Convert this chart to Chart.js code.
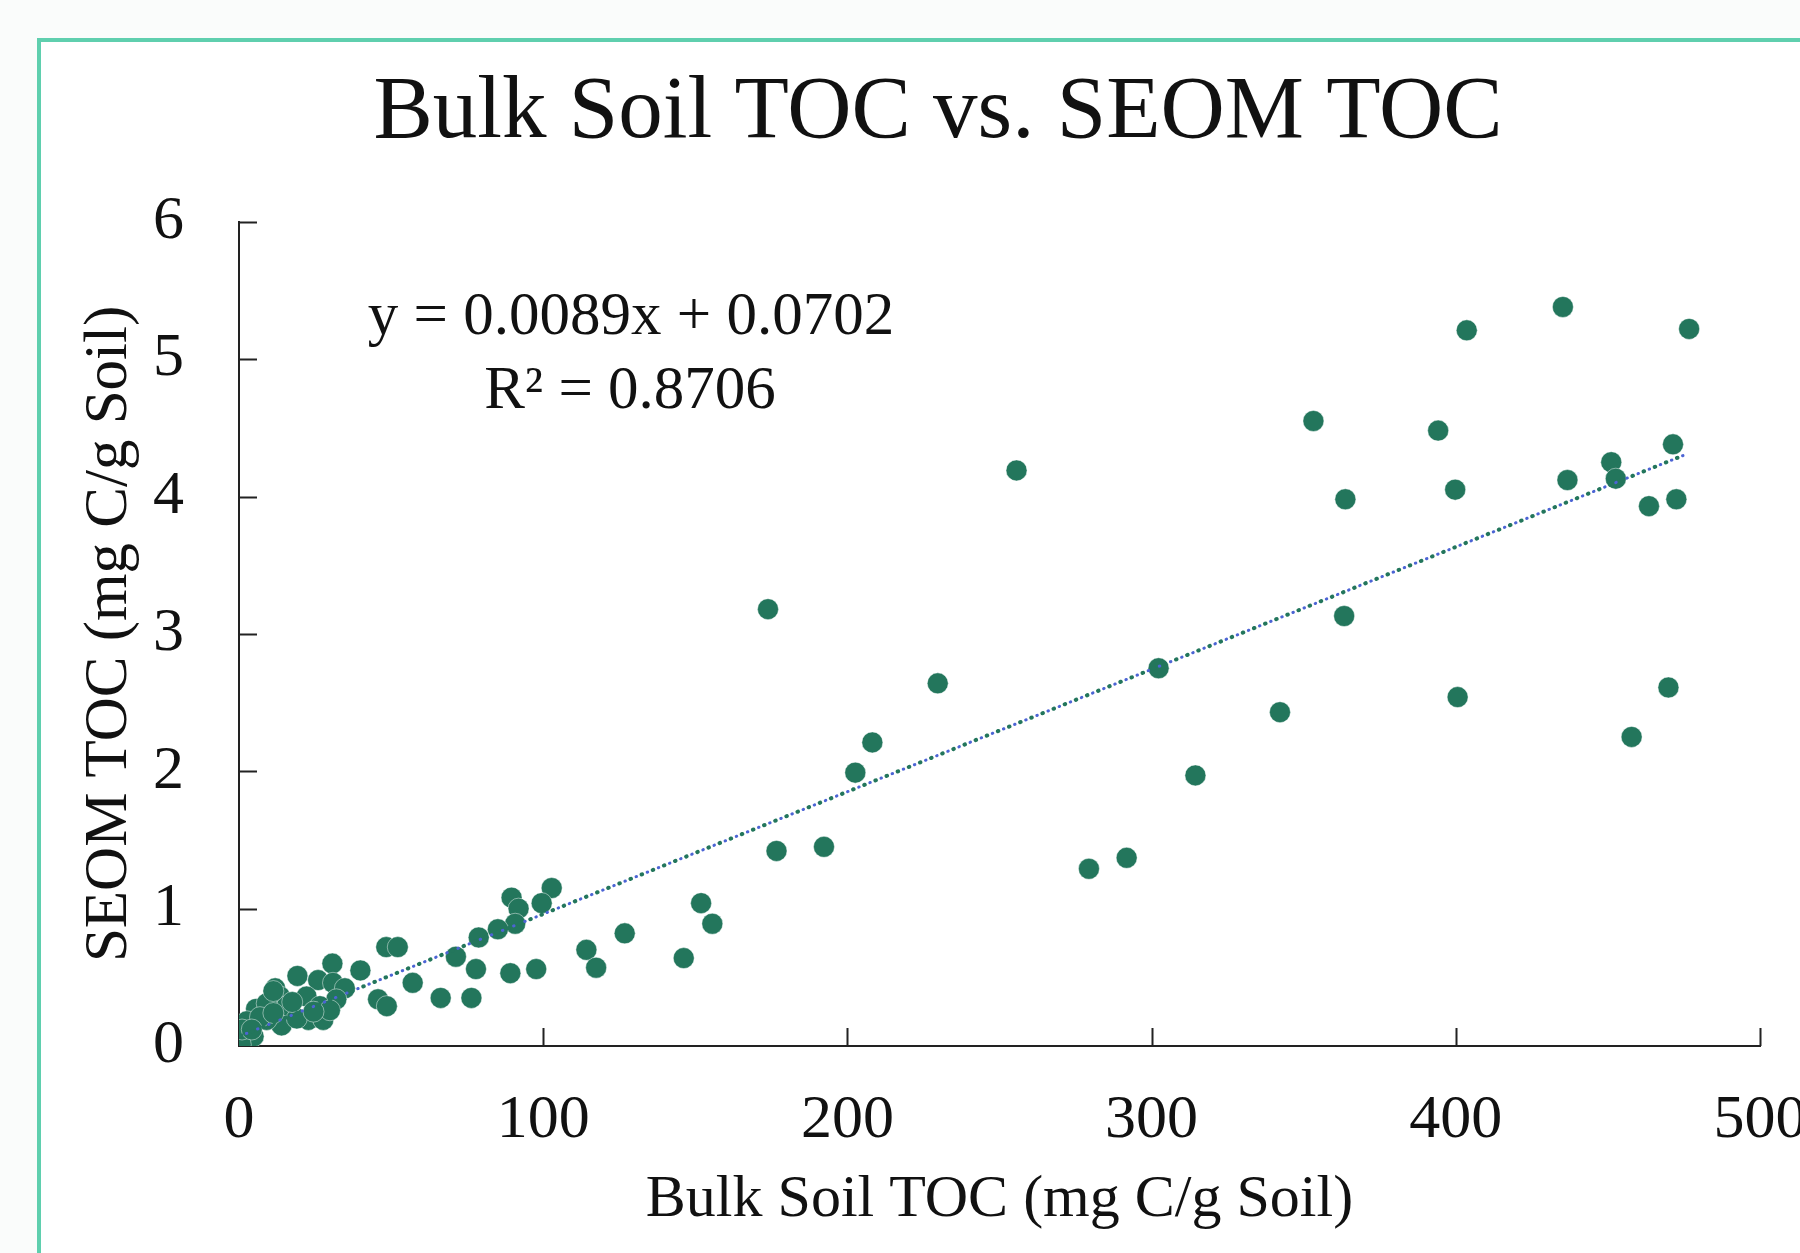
<!DOCTYPE html>
<html>
<head>
<meta charset="utf-8">
<script src="https://cdn.jsdelivr.net/npm/chart.js@4.4.1/dist/chart.umd.min.js"></script>
<style>
html, body { margin: 0; padding: 0; background: #fafcfb; overflow: hidden; width: 1800px; height: 1253px; }
#frame { position: absolute; left: 37px; top: 38px; width: 1800px; height: 1300px;
         border-left: 4px solid #5fcfae; border-top: 4px solid #5fcfae; background: #fff; overflow: hidden; }
#chartBox { position: absolute; left: 0; top: 0; }
</style>
</head>
<body>
<div id="frame"><div id="chartBox"><canvas id="tocChart" width="1794" height="1211"></canvas></div></div>
<script>
// Bulk soil TOC (x) and SEOM TOC (y)
const bulkToc = [
  435.2, 403.6, 476.7, 353.2, 394.2, 255.6, 471.4, 451.1, 436.7, 452.6,
  399.8, 363.7, 472.5, 463.5, 173.9, 363.3, 302.3, 229.7, 469.9, 400.6,
  342.2, 457.8, 208.2, 202.6, 314.4, 192.3, 176.7, 291.8, 279.4,
  151.9, 155.6, 146.2, 126.8, 114.2, 117.4, 102.8, 89.6, 99.5, 91.9,
  90.8, 85.1, 78.8, 71.3, 77.9, 89.2, 97.7, 48.4, 52.2, 57.1,
  66.3, 76.4, 45.7, 48.6,
  30.7, 39.9, 19.2, 26.0, 30.9, 34.8, 32.0, 11.9, 13.5, 22.2,
  15.7, 26.6, 22.8, 27.7, 29.9, 5.6, 9.1, 14.0, 19.0, 9.1,
  2.6, 1.5, 4.8, 0.6, 6.9, 11.3, 1.0, 4.2, 11.3, 17.5, 24.5
];
const seomToc = [
  5.38, 5.21, 5.22, 4.55, 4.48, 4.19, 4.38, 4.25, 4.12, 4.13,
  4.05, 3.98, 3.98, 3.93, 3.18, 3.13, 2.75, 2.64, 2.61, 2.54,
  2.43, 2.25, 2.21, 1.99, 1.97, 1.45, 1.42, 1.37, 1.29,
  1.04, 0.89, 0.64, 0.82, 0.70, 0.57, 1.15, 1.08, 1.04, 1.00,
  0.89, 0.85, 0.79, 0.65, 0.56, 0.53, 0.56, 0.72, 0.72, 0.46,
  0.35, 0.35, 0.34, 0.29,
  0.60, 0.55, 0.51, 0.48, 0.46, 0.42, 0.34, 0.42, 0.36, 0.36,
  0.29, 0.29, 0.19, 0.19, 0.26, 0.27, 0.31, 0.15, 0.20, 0.19,
  0.18, 0.10, 0.07, 0.01, 0.21, 0.24, 0.12, 0.12, 0.40, 0.32, 0.25
];

// trendline end points
const trendX = [0.6, 476];
const trendY = [0.075, 4.31];

const xTicks = [0, 100, 200, 300, 400, 500];
const yTicks = [0, 1, 2, 3, 4, 5, 6];
const equationLines = ['y = 0.0089x + 0.0702', 'R² = 0.8706'];

const serif = "'Liberation Serif', 'DejaVu Serif', serif";
const green = '#23765c';

const points = bulkToc.map((x, i) => ({ x: x, y: seomToc[i] }));
const trend = trendX.map((x, i) => ({ x: x, y: trendY[i] }));

// tick marks point into the plot, and the fit equation
const innerTicks = {
  id: 'innerTicks',
  afterDraw(chart) {
    const ctx = chart.ctx;
    const xs = chart.scales.x, ys = chart.scales.y;
    ctx.save();
    ctx.strokeStyle = '#222';
    ctx.lineWidth = 2;
    ctx.beginPath();
    xTicks.forEach(v => {
      if (v === 0) return;
      const px = Math.round(xs.getPixelForValue(v)) + 0.5;
      ctx.moveTo(px, ys.bottom);
      ctx.lineTo(px, ys.bottom - 18);
    });
    yTicks.forEach(v => {
      if (v === 0) return;
      const py = Math.round(ys.getPixelForValue(v)) + 0.5;
      ctx.moveTo(xs.left, py);
      ctx.lineTo(xs.left + 18, py);
    });
    ctx.stroke();

    ctx.fillStyle = '#111';
    ctx.font = '61px ' + serif;
    ctx.textAlign = 'center';
    ctx.textBaseline = 'middle';
    ctx.fillText(equationLines[0], 590, 276);
    ctx.fillText(equationLines[1], 589, 350);
    ctx.restore();
  }
};

const ctx = document.getElementById('tocChart').getContext('2d');
new Chart(ctx, {
  type: 'scatter',
  data: {
    datasets: [
      {
        type: 'line', label: 'trend', data: trend,
        borderColor: '#4c64d4', borderWidth: 3, borderCapStyle: 'round',
        borderDash: [0.5, 11.5], borderDashOffset: 6,
        pointRadius: 0, fill: false
      },
      {
        type: 'line', label: 'trend2', data: trend,
        borderColor: green, borderWidth: 4, borderCapStyle: 'round',
        borderDash: [0.5, 11.5],
        pointRadius: 0, fill: false
      },
      {
        label: 'TOC', data: points,
        pointRadius: 10.5, pointHoverRadius: 10.5,
        backgroundColor: green,
        borderColor: 'rgba(255,255,255,0.45)', borderWidth: 1
      }
    ]
  },
  options: {
    responsive: false,
    animation: false,
    layout: { padding: 0 },
    plugins: {
      legend: { display: false },
      tooltip: { enabled: false },
      title: {
        display: true,
        text: 'Bulk Soil TOC vs. SEOM TOC',
        color: '#111',
        font: { family: serif, size: 89, weight: 'normal' },
        padding: { top: 18, bottom: 55 }
      }
    },
    scales: {
      x: {
        type: 'linear', min: 0, max: 500,
        afterBuildTicks: s => { s.ticks = xTicks.map(v => ({ value: v })); },
        afterFit: s => { s.height = 207; s.paddingLeft = 0; s.paddingRight = 0; },
        grid: { display: false, drawTicks: false },
        border: { display: true, color: '#222', width: 2 },
        ticks: { color: '#111', padding: 38, maxRotation: 0, font: { family: serif, size: 62 } },
        title: {
          display: true, text: 'Bulk Soil TOC (mg C/g Soil)', color: '#111',
          font: { family: serif, size: 60 }, padding: { top: 0, bottom: 17 }
        }
      },
      y: {
        type: 'linear', min: 0, max: 6,
        afterBuildTicks: s => { s.ticks = yTicks.map(v => ({ value: v })); },
        afterFit: s => { s.width = 198; },
        grid: { display: false, drawTicks: false },
        border: { display: true, color: '#222', width: 2 },
        ticks: { color: '#111', padding: 55, font: { family: serif, size: 62 } },
        title: {
          display: true, text: 'SEOM TOC (mg C/g Soil)', color: '#111',
          font: { family: serif, size: 61 }, padding: { top: 32, bottom: 0 }
        }
      },
      // empty right-hand box, keeps the plot clear of the right edge
      spacer: {
        type: 'linear', position: 'right', display: true,
        afterFit: s => { s.width = 75; },
        grid: { display: false, drawTicks: false },
        border: { display: false },
        ticks: { display: false }
      }
    }
  },
  plugins: [innerTicks]
});
</script>
</body>
</html>
